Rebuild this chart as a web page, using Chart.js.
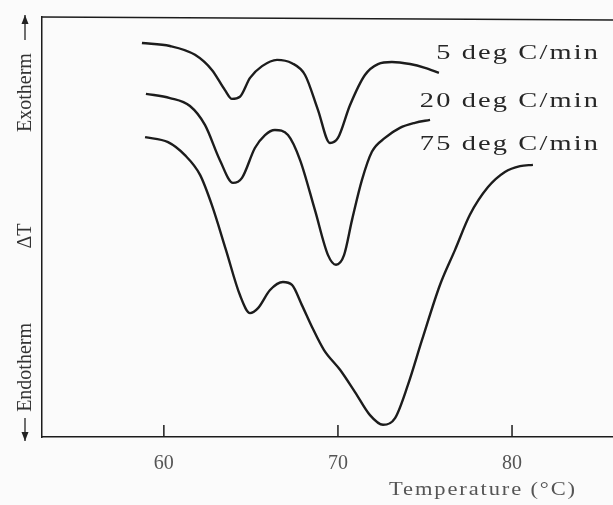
<!DOCTYPE html>
<html>
<head>
<meta charset="utf-8">
<script src="https://cdn.jsdelivr.net/npm/chart.js@4.4.1/dist/chart.umd.min.js"></script>
<style>
  html, body { margin: 0; padding: 0; background: #fbfbfb; }
  #wrap { width: 613px; height: 505px; }
</style>
</head>
<body>
<div id="wrap"><canvas id="dta" width="613" height="505"></canvas></div>
<script>
// heating rates shown next to the curves
const rateLabels = ['5 deg C/min', '20 deg C/min', '75 deg C/min'];

// curve 1 - 5 deg C/min
const temp5 = [58.74, 60.35, 61.79, 62.76, 63.51, 63.91, 64.37, 64.95, 65.64, 66.5, 67.36, 68.11, 68.85, 69.54, 70.0, 70.69, 71.55, 72.3, 73.1, 74.14, 75.0, 75.8];
const dT5 = [93.8, 93.1, 91.0, 87.4, 82.6, 80.5, 81.0, 85.5, 88.3, 89.8, 89.0, 86.2, 77.9, 70.0, 71.2, 79.0, 86.2, 88.8, 89.3, 88.8, 87.9, 86.7];

// curve 2 - 20 deg C/min
const temp20 = [58.97, 60.35, 61.5, 62.36, 63.22, 63.97, 64.49, 65.23, 65.81, 66.38, 67.13, 67.82, 68.68, 69.43, 69.89, 70.35, 70.81, 71.38, 71.95, 72.7, 73.56, 74.42, 75.29];
const dT20 = [81.7, 80.7, 78.8, 74.3, 65.9, 60.5, 61.7, 68.8, 71.9, 73.1, 71.9, 66.0, 54.0, 43.3, 41.0, 43.3, 51.7, 61.2, 67.9, 71.2, 73.6, 74.8, 75.5];

// curve 3 - 75 deg C/min
const temp75 = [58.92, 60.24, 61.21, 62.08, 62.76, 63.57, 64.37, 64.95, 65.41, 66.1, 66.84, 67.36, 67.93, 68.51, 69.2, 70.12, 70.98, 71.84, 72.59, 73.28, 74.02, 74.83, 75.86, 76.72, 77.58, 78.62, 79.59, 80.46, 81.2];
const dT75 = [71.4, 70.2, 67.1, 62.4, 55.2, 44.5, 33.8, 29.5, 30.7, 35.0, 36.9, 36.2, 31.4, 26.2, 20.7, 16.0, 10.7, 5.2, 2.9, 4.5, 12.4, 23.1, 36.2, 44.5, 52.9, 59.5, 63.1, 64.5, 64.8];

const xTicks = [60, 70, 80];

const ink = '#1c1c1c';
const serif = '"Liberation Serif", "DejaVu Serif", serif';

function toPoints(xs, ys) {
    return xs.map((x, i) => ({ x: x, y: ys[i] }));
}

function arrow(c, x, y0, y1) {
    // vertical arrow from y0 to y1 (head at y1)
    const d = y1 > y0 ? 1 : -1;
    c.beginPath();
    c.moveTo(x, y0);
    c.lineTo(x, y1);
    c.stroke();
    c.beginPath();
    c.moveTo(x, y1);
    c.lineTo(x - 3.5, y1 - d * 9);
    c.lineTo(x + 3.5, y1 - d * 9);
    c.closePath();
    c.fill();
}

// text squeezed wider, like the scanned lettering
function wideText(c, txt, x, y, sx, align) {
    c.save();
    c.translate(x, y);
    c.scale(sx, 1);
    c.textAlign = align;
    c.fillText(txt, 0, 0);
    c.restore();
}

// frame top line, inward ticks, side labels and curve labels
const decor = {
    id: 'decor',
    afterDraw(chart) {
        const c = chart.ctx;
        const a = chart.chartArea;
        const xs = chart.scales.x;
        c.save();
        c.strokeStyle = ink;
        c.lineWidth = 1.5;
        c.beginPath();
        c.moveTo(a.left, a.top);
        c.lineTo(a.right, a.top + 3);
        c.stroke();

        xTicks.forEach(v => {
            const px = xs.getPixelForValue(v);
            c.beginPath();
            c.moveTo(px, a.bottom);
            c.lineTo(px, a.bottom - 12);
            c.stroke();
        });

        // y axis words, rotated
        const lx = 26;
        c.fillStyle = '#333';
        c.strokeStyle = '#333';
        c.lineWidth = 1.3;
        c.font = '20px ' + serif;
        c.textBaseline = 'middle';
        c.save();
        c.translate(lx, 0);
        c.rotate(-Math.PI / 2);
        c.textAlign = 'left';
        c.fillText('Exotherm', -132, 0);
        c.textAlign = 'center';
        c.fillText('\u0394T', -236, 0);
        c.textAlign = 'right';
        c.fillText('Endotherm', -323, 0);
        c.restore();
        c.fillStyle = '#222';
        c.strokeStyle = '#222';
        arrow(c, lx - 1, 40, 15);
        arrow(c, lx - 1, 418, 441);

        // curve labels
        c.font = '20px ' + serif;
        c.letterSpacing = '1.5px';
        c.fillStyle = '#262626';
        const labelY = [54, 102, 145];
        rateLabels.forEach((t, i) => {
            wideText(c, t, 600, labelY[i], 1.42, 'right');
        });

        // x axis title
        c.font = '18px ' + serif;
        c.letterSpacing = '1.5px';
        c.fillStyle = '#555';
        wideText(c, 'Temperature (\u00B0C)', 483, 490, 1.25, 'center');
        c.restore();
    }
};

const mkSet = (label, xs, ys) => ({
    label: label,
    data: toPoints(xs, ys),
    borderColor: ink,
    borderWidth: 2.4,
    pointRadius: 0,
    fill: false,
    cubicInterpolationMode: 'monotone'
});

new Chart(document.getElementById('dta').getContext('2d'), {
    type: 'line',
    data: {
        datasets: [
            mkSet(rateLabels[0], temp5, dT5),
            mkSet(rateLabels[1], temp20, dT20),
            mkSet(rateLabels[2], temp75, dT75)
        ]
    },
    plugins: [decor],
    options: {
        responsive: false,
        animation: false,
        layout: { padding: { left: 34, top: 17, right: 0, bottom: 22 } },
        plugins: {
            legend: { display: false },
            tooltip: { enabled: false }
        },
        scales: {
            x: {
                type: 'linear',
                min: 53,
                max: 85.8,
                afterBuildTicks: s => { s.ticks = xTicks.map(v => ({ value: v })); },
                grid: { display: false },
                border: { display: true, color: ink, width: 1.5 },
                ticks: {
                    color: '#555',
                    padding: 7,
                    font: { family: serif, size: 20 }
                }
            },
            y: {
                min: 0,
                max: 100,
                grid: { display: false },
                border: { display: true, color: ink, width: 1.5 },
                ticks: { display: false }
            }
        }
    }
});
</script>
</body>
</html>
